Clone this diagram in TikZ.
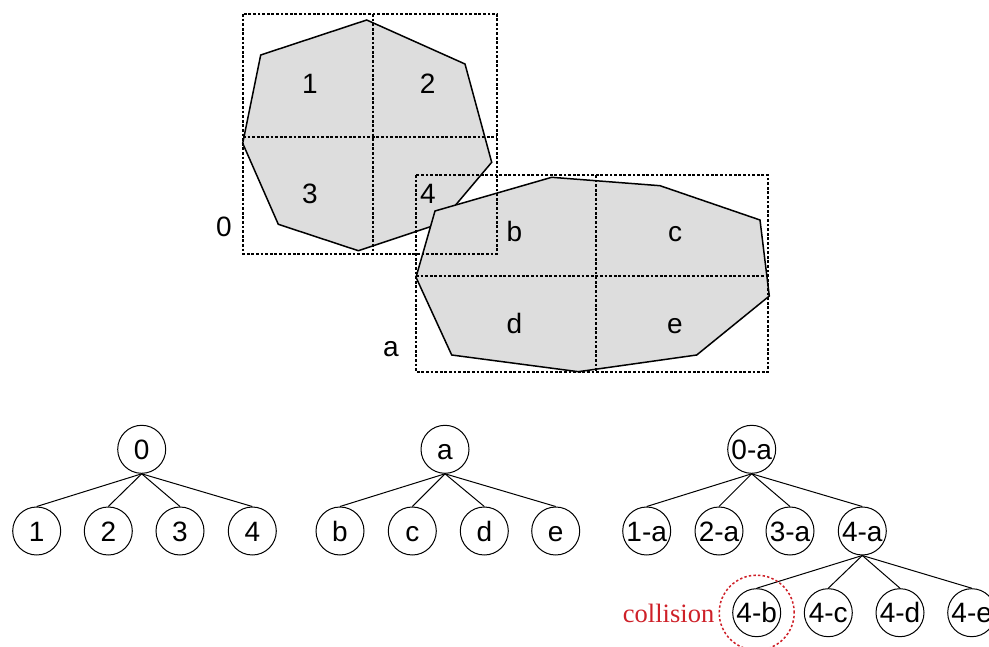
\documentclass[tikz,border=0pt]{standalone}
\usepackage{fontspec}
\setmainfont{Liberation Sans}
\newfontfamily\seriffont{Liberation Serif}
\usetikzlibrary{positioning}
\definecolor{cellgray}{RGB}{221,221,221}
\definecolor{hitred}{RGB}{206,32,40}

\begin{document}
\begin{tikzpicture}
			[x=1pt,y=-1pt,
			every node/.style={font=\fontsize{28}{32}\selectfont, text height=20pt, text depth=0pt},
			poly/.style={draw=black, fill=cellgray, line width=1.5pt},
			grid/.style={dash pattern=on 2.8pt off 1.8pt, line width=1.6pt},
			leaf/.style={circle, draw=black, line width=1pt, minimum size=48pt, inner sep=0pt},
			ring/.style={circle, draw=hitred, dash pattern=on 2.4pt off 2.2pt, line width=1.5pt, minimum size=75pt, inner sep=0pt}]

			\useasboundingbox (0,0) rectangle (989,647);

			% the two shapes
			\draw[poly] (366.7,20) -- (465,64) -- (491.7,162.3) -- (440,223.5)
				-- (358.3,250.7) -- (278.3,224.3) -- (242.7,143.3) -- (260.7,55) -- cycle;
			\draw[poly] (435,211) -- (551.7,177.3) -- (660,185.7) -- (760,220)
				-- (769.3,296) -- (696.7,355) -- (578.3,371.7) -- (451.7,355) -- (416,277.3) -- cycle;

			% their boxes
			\draw[grid] (243,14) rectangle (497,254);
			\draw[grid] (373,14) -- (373,254);
			\draw[grid] (243,137) -- (497,137);

			\draw[grid] (416,175) rectangle (768,372);
			\draw[grid] (596,175) -- (596,372);
			\draw[grid] (416,276) -- (768,276);

			\node (q1) at (310,83.3)   {1};
			\node (q2) at (427.7,83.3) {2};
			\node (q3) at (310,193.3)  {3};
			\node (q4) at (428,193.3)  {4};

			\node (qb) at (514.3,231.7) {b};
			\node (qc) at (675,231.7)   {c};
			\node (qd) at (514.3,323.3) {d};
			\node (qe) at (675,323.3)   {e};

			\node (box0) at (224,227) {0};
			\node (boxa) at (391,346) {a};

			% trees
			\node[leaf] (r0) at (141.7,449.3) {0};
			\node[leaf] (n1) at (36.7,531)  {1};
			\node[leaf] (n2) at (108.3,531) {2};
			\node[leaf] (n3) at (180,531)   {3};
			\node[leaf] (n4) at (252.3,531) {4};

			\node[leaf] (ra) at (445,449.3) {a};
			\node[leaf] (nb) at (340,531)   {b};
			\node[leaf] (nc) at (412.3,531) {c};
			\node[leaf] (nd) at (484.3,531) {d};
			\node[leaf] (ne) at (555.7,531) {e};

			\node[leaf] (r0a) at (751.7,449.3) {0-a};
			\node[leaf] (n1a) at (646.7,531)   {1-a};
			\node[leaf] (n2a) at (719,531)     {2-a};
			\node[leaf] (n3a) at (790,531)     {3-a};
			\node[leaf] (n4a) at (862.3,531)   {4-a};

			\node[leaf] (n4b) at (756.7,612.7) {4-b};
			\node[leaf] (n4c) at (828.3,612.7) {4-c};
			\node[leaf] (n4d) at (900,612.7)   {4-d};
			\node[leaf] (n4e) at (971.7,612.7) {4-e};

			\foreach \from/\to in {r0/n1,r0/n2,r0/n3,r0/n4,
			ra/nb,ra/nc,ra/nd,ra/ne,
			r0a/n1a,r0a/n2a,r0a/n3a,r0a/n4a,
			n4a/n4b,n4a/n4c,n4a/n4d,n4a/n4e}
			\draw[line width=1pt] (\from.south) -- (\to.north);

			\node[ring] (hit) at (n4b) {};
			\node[left=4pt of hit, inner sep=0pt, text=hitred,
				font=\seriffont\fontsize{26.5}{30}\selectfont] (hitlbl) {collision};
		\end{tikzpicture}
\end{document}
